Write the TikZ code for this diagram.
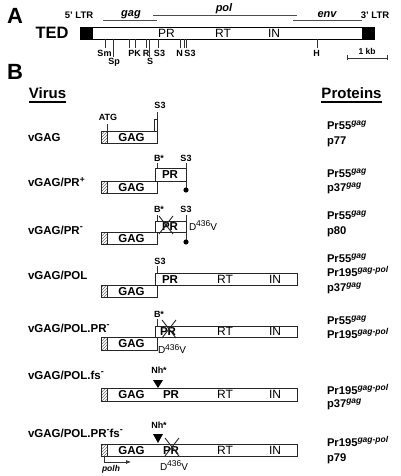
\documentclass[tikz,border=0pt]{standalone}
\usepackage{fontspec}
\setmainfont{Liberation Sans}
\usetikzlibrary{patterns,arrows.meta}
\begin{document}
\begin{tikzpicture}[x=1pt,y=-1pt,
  every node/.style={inner sep=0pt, outer sep=0pt},
  panel/.style={font=\bfseries\fontsize{22}{24}\selectfont, anchor=base},
  ltr/.style={font=\bfseries\fontsize{9.5}{11}\selectfont, anchor=base},
  genename/.style={font=\bfseries\itshape\fontsize{11}{13}\selectfont, anchor=base},
  geneline/.style={line width=0.8pt, black!70},
  site/.style={font=\bfseries\fontsize{9}{10}\selectfont, anchor=base},
  tick/.style={line width=0.7pt, black!80},
  head/.style={font=\bfseries\fontsize{15}{17}\selectfont, anchor=base},
  uline/.style={line width=1.2pt},
  virus/.style={font=\bfseries\fontsize{11.5}{13}\selectfont, anchor=base west},
  prot/.style={font=\bfseries\fontsize{11.2}{13}\selectfont, anchor=base west},
  gbox/.style={draw=black!85, line width=0.9pt, fill=white},
  hatch/.style={pattern=north east lines, pattern color=black!55},
  boldin/.style={font=\bfseries\fontsize{11.5}{13}\selectfont, anchor=base},
  plainin/.style={font=\fontsize{12}{13}\selectfont, anchor=base},
  mut/.style={font=\fontsize{10}{11}\selectfont, anchor=base west},
  xmark/.style={line width=0.9pt, black!85},
  tri/.style={fill=black},
]
\useasboundingbox (0,0) rectangle (400,476);
\newcommand{\sgag}{\raisebox{4pt}{\fontsize{8.5}{9}\selectfont\itshape gag}}
\newcommand{\sgp}{\raisebox{4pt}{\fontsize{8.5}{9}\selectfont\itshape gag-pol}}
\newcommand{\dmut}{D\raisebox{3.5pt}{\fontsize{8.5}{9}\selectfont 436}V}
\newcommand{\smin}{\raisebox{4.5pt}{\fontsize{9}{9}\selectfont -}}
\newcommand{\spls}{\raisebox{4pt}{\fontsize{8.5}{9}\selectfont +}}

% ---------------- Panel A ----------------
\node[panel] (pA) at (15,24) {A};
\node[ltr] (ltr5) at (79,18.5) {5' LTR};
\node[ltr] (ltr3) at (375,18.5) {3' LTR};
\coordinate (gagL) at (103,20); \coordinate (gagR) at (157,20);
\coordinate (polL) at (153,15); \coordinate (polR) at (297,15);
\coordinate (envL) at (293,20); \coordinate (envR) at (362,20);
\draw[geneline] (gagL) -- (gagR);
\draw[geneline] (polL) -- (polR);
\draw[geneline] (envL) -- (envR);
\node[genename] (ngag) at (131,17) {gag};
\node[genename] (npol) at (224,12) {pol};
\node[genename] (nenv) at (327,17.5) {env};
\node[font=\bfseries\fontsize{16.5}{18}\selectfont, anchor=base] (ted) at (52,38.5) {TED};
\draw[line width=0.9pt] (80,27) rectangle (374,39);
\fill (80,27) rectangle (93,39);
\fill (362,27) rectangle (374,39);
\node[plainin] (tPR) at (166.5,37.5) {PR};
\node[plainin] (tRT) at (223,37.5) {RT};
\node[plainin] (tIN) at (274,37.5) {IN};
% restriction sites
\foreach \x/\b in {105/48,113/57,129/48,135/48,146/48,149/57,158/48,180/48,184.5/48,186.5/48,317/48}
  \draw[tick] (\x,39) -- (\x,\b);
\node[site] (sSm) at (104.5,57) {Sm};
\node[site] (sSp) at (114,64.5) {Sp};
\node[site] (sPK) at (134.5,57) {PK};
\node[site] (sR) at (146,57) {R};
\node[site] (sS) at (150,64.5) {S};
\node[site] (sS3a) at (159.5,57) {S3};
\node[site] (sN) at (179.5,57) {N};
\node[site] (sS3b) at (190,57) {S3};
\node[site] (sH) at (316.5,57) {H};
% scale bar
\coordinate (kbL) at (347,58); \coordinate (kbR) at (387,58);
\draw[tick] (kbL) -- (kbR);
\draw[tick] ([yshift=-2.5pt]kbL) -- ([yshift=2.5pt]kbL);
\draw[tick] ([yshift=-2.5pt]kbR) -- ([yshift=2.5pt]kbR);
\node[font=\bfseries\fontsize{8.5}{10}\selectfont, anchor=base] (kb) at (367,54.5) {1 kb};

% ---------------- Panel B ----------------
\node[panel] (pB) at (15,80) {B};
\node[head] (hV) at (47.5,98.5) {Virus};
\draw[uline] ([yshift=-3.5pt]hV.base west) -- ([yshift=-3.5pt]hV.base east);
\node[head] (hP) at (351.5,98.5) {Proteins};
\draw[uline] ([yshift=-3.5pt]hP.base west) -- ([yshift=-3.5pt]hP.base east);

% Row 1: vGAG
\node[virus] (v1) at (28,141) {vGAG};
\draw[gbox] (101,131) rectangle (157,143);
\fill[hatch] (101,131) rectangle (107,143);
\draw[gbox, fill=none] (101,131) rectangle (107,143);
\node[boldin] (g1) at (131.5,141) {GAG};
\draw[gbox] (154,119) rectangle (157,131);
\draw[tick] (107,131) -- (107,124);
\node[site] (atg) at (108,121) {ATG};
\draw[tick] (157,119) -- (157,112);
\node[site] (s31) at (160,108.5) {S3};
\node[prot] (p1a) at (327,129) {Pr55\sgag};
\node[prot] (p1b) at (327,144) {p77};

% Row 2: vGAG/PR+
\node[virus] (v2) at (28,186) {vGAG/PR\spls};
\draw[gbox] (101,181) rectangle (157,193);
\fill[hatch] (101,181) rectangle (107,193);
\draw[gbox, fill=none] (101,181) rectangle (107,193);
\node[boldin] (g2) at (131.5,191) {GAG};
\draw[gbox] (155,168) rectangle (186,181);
\node[boldin] (r2) at (170,178.5) {PR};
\draw[tick] (157,168) -- (157,163);
\node[site] (b2) at (159,161.5) {B*};
\draw[tick] (186,168) -- (186,163);
\node[site] (s32) at (186,161.5) {S3};
\coordinate (d2) at (186,190);
\draw[tick] (186,181) -- (d2);
\fill (d2) circle (2.6pt);
\node[prot] (p2a) at (327,177) {Pr55\sgag};
\node[prot] (p2b) at (327,191) {p37\sgag};

% Row 3: vGAG/PR-
\node[virus] (v3) at (28,234) {vGAG/PR\smin};
\draw[gbox] (101,232) rectangle (157,244);
\fill[hatch] (101,232) rectangle (107,244);
\draw[gbox, fill=none] (101,232) rectangle (107,244);
\node[boldin] (g3) at (131.5,242) {GAG};
\draw[gbox] (155,221) rectangle (186,232);
\node[boldin] (r3) at (170,230.5) {PR};
\draw[xmark] (159,216) -- (173,234);
\draw[xmark] (173,216) -- (159,234);
\draw[tick] (157,221) -- (157,215);
\node[site] (b3) at (159,212) {B*};
\draw[tick] (186,221) -- (186,215);
\node[site] (s33) at (186,212) {S3};
\coordinate (d3) at (186,242);
\draw[tick] (186,232) -- (d3);
\fill (d3) circle (2.6pt);
\node[mut] (m3) at (189,230) {\dmut};
\node[prot] (p3a) at (327,219) {Pr55\sgag};
\node[prot] (p3b) at (327,234) {p80};

% Row 4: vGAG/POL
\node[virus] (v4) at (28,279) {vGAG/POL};
\draw[gbox] (101,285) rectangle (157,297);
\fill[hatch] (101,285) rectangle (107,297);
\draw[gbox, fill=none] (101,285) rectangle (107,297);
\node[boldin] (g4) at (131.5,295) {GAG};
\draw[gbox] (155,273) rectangle (297,285);
\node[boldin] (r4) at (170,283) {PR};
\node[plainin] (rt4) at (225,283) {RT};
\node[plainin] (in4) at (275,283) {IN};
\draw[tick] (157,273) -- (157,266);
\node[site] (s34) at (160,264) {S3};
\node[prot] (p4a) at (327,262) {Pr55\sgag};
\node[prot] (p4b) at (327,276) {Pr195\sgp};
\node[prot] (p4c) at (327,291) {p37\sgag};

% Row 5: vGAG/POL.PR-
\node[virus] (v5) at (28,332) {vGAG/POL.PR\smin};
\draw[gbox] (101,337) rectangle (157,350);
\fill[hatch] (101,337) rectangle (107,350);
\draw[gbox, fill=none] (101,337) rectangle (107,350);
\node[boldin] (g5) at (131.5,347.5) {GAG};
\draw[gbox] (155,326) rectangle (297,337);
\node[boldin] (r5) at (168,335.5) {PR};
\node[plainin] (rt5) at (225,335.5) {RT};
\node[plainin] (in5) at (275,335.5) {IN};
\draw[xmark] (162,320) -- (176,338);
\draw[xmark] (176,320) -- (162,338);
\draw[tick] (157,326) -- (157,319);
\node[site] (b5) at (159,317) {B*};
\node[mut] (m5) at (158,353.5) {\dmut};
\node[prot] (p5a) at (327,324) {Pr55\sgag};
\node[prot] (p5b) at (327,338) {Pr195\sgp};

% Row 6: vGAG/POL.fs-
\node[virus] (v6) at (28,379) {vGAG/POL.fs\smin};
\draw[gbox] (101,388) rectangle (297,401);
\fill[hatch] (101,388) rectangle (107,401);
\draw[gbox, fill=none] (101,388) rectangle (107,401);
\node[boldin] (g6) at (131.5,398.5) {GAG};
\node[boldin] (r6) at (171,398.5) {PR};
\node[plainin] (rt6) at (225,398.5) {RT};
\node[plainin] (in6) at (275,398.5) {IN};
\fill[tri] (153,380) -- (163,380) -- (158,388) -- cycle;
\node[site] (nh6) at (159,373.5) {Nh*};
\node[prot] (p6a) at (327,394) {Pr195\sgp};
\node[prot] (p6b) at (327,407) {p37\sgag};

% Row 7: vGAG/POL.PR-fs-
\node[virus] (v7) at (28,437) {vGAG/POL.PR\smin fs\smin};
\draw[gbox] (101,444) rectangle (297,456);
\fill[hatch] (101,444) rectangle (107,456);
\draw[gbox, fill=none] (101,444) rectangle (107,456);
\node[boldin] (g7) at (131.5,454) {GAG};
\node[boldin] (r7) at (171,454) {PR};
\node[plainin] (rt7) at (225,454) {RT};
\node[plainin] (in7) at (275,454) {IN};
\draw[xmark] (165,438) -- (179,456);
\draw[xmark] (179,438) -- (165,456);
\fill[tri] (153,434) -- (163,434) -- (158,443) -- cycle;
\node[site] (nh7) at (159,428) {Nh*};
\coordinate (ph0) at (104,456);
\coordinate (ph1) at (104,462);
\coordinate (ph2) at (131,462);
\draw[tick, -{Latex[length=5pt,width=4pt]}] (ph0) -- (ph1) -- (ph2);
\node[font=\bfseries\itshape\fontsize{8.5}{10}\selectfont, anchor=base west] (polh) at (102,471) {polh};
\node[mut] (m7) at (160,470) {\dmut};
\node[prot] (p7a) at (327,446) {Pr195\sgp};
\node[prot] (p7b) at (327,461) {p79};
\end{tikzpicture}
\end{document}
